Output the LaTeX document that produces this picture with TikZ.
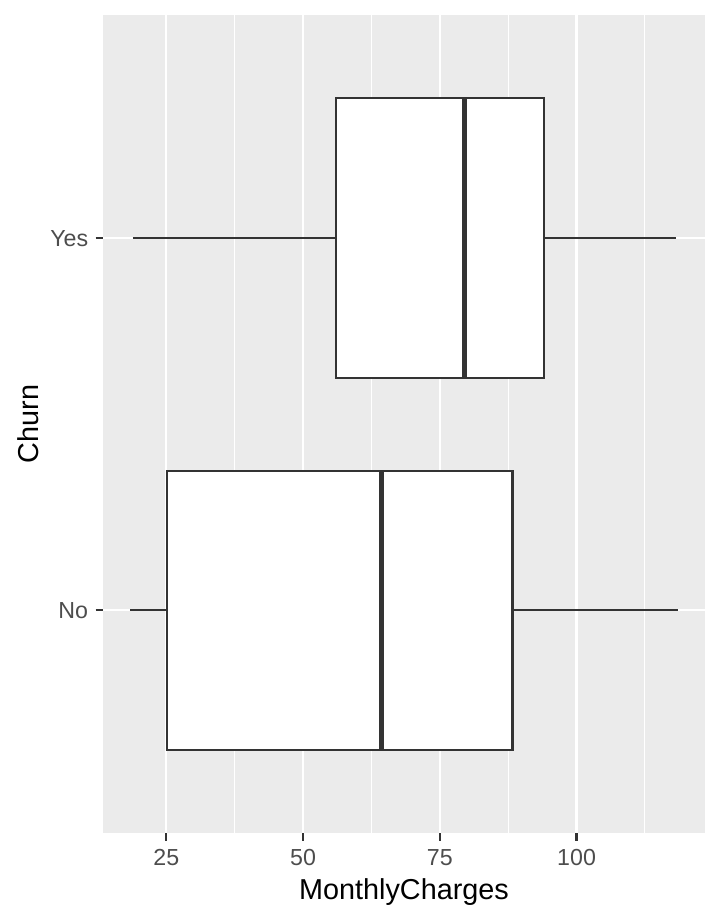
\documentclass[tikz,border=0pt]{standalone}
\usepackage{fontspec}
\setmainfont{Liberation Sans}
\usepackage{tikz}
\definecolor{panelgrey}{HTML}{EBEBEB}
\definecolor{grey20}{HTML}{333333}
\definecolor{grey30}{HTML}{4D4D4D}

\begin{document}
\begin{tikzpicture}[x=0.5pt, y=-0.5pt,
    gridmajor/.style={white, line width=1.1pt},
    gridminor/.style={white, line width=0.55pt},
    boxline/.style={draw=grey20, fill=white, line width=1.1pt},
    whisker/.style={grey20, line width=1.1pt},
    medianline/.style={grey20, line width=2.4pt},
    tickmark/.style={grey20, line width=1.1pt},
    ticklabel/.style={grey30, inner sep=0pt, font=\fontsize{11.6}{13}\selectfont},
    axistitle/.style={black, inner sep=0pt, font=\fontsize{14.4}{16}\selectfont}]
    \useasboundingbox (0,0) rectangle (720,921);

    % Panel
    \fill[panelgrey] (103,15) rectangle (705,833);
    \foreach \row in {238,610}
        \draw[gridmajor] (103,\row) -- (705,\row);

    % Data scale: MonthlyCharges
    \begin{scope}[x=2.735pt, xshift=14.775pt]
        \foreach \v in {37.5,62.5,87.5,112.5}
            \draw[gridminor] (\v,15) -- (\v,833);
        \foreach \v in {25,50,75,100} {
            \draw[gridmajor] (\v,15) -- (\v,833);
            \draw[tickmark] (\v,833) -- (\v,840.5);
            \node[ticklabel, anchor=base] (tick\v) at (\v,865) {\v};
        }

        % Churn = Yes
        \draw[whisker] (18.9,238) -- (56.0,238);
        \draw[whisker] (94.0,238) -- (118.1,238);
        \draw[boxline] (56.0,98.3) rectangle (94.0,377.7);
        \draw[medianline] (79.5,98.3) -- (79.5,377.7);

        % Churn = No
        \draw[whisker] (18.4,610) -- (25.1,610);
        \draw[whisker] (88.3,610) -- (118.6,610);
        \draw[boxline] (25.1,470.7) rectangle (88.3,750);
        \draw[medianline] (64.4,470.7) -- (64.4,750);
    \end{scope}

    % Y axis
    \draw[tickmark] (95.5,238) -- (103,238);
    \draw[tickmark] (95.5,610) -- (103,610);
    \node[ticklabel, anchor=base east] (yes) at (88.5,246.5) {Yes};
    \node[ticklabel, anchor=base east] (no) at (88.5,618.5) {No};

    % Axis titles
    \node[axistitle, anchor=base] (xtitle) at (404,899) {MonthlyCharges};
    \node[axistitle, anchor=base, rotate=90] (ytitle) at (38.3,424) {Churn};
\end{tikzpicture}
\end{document}
